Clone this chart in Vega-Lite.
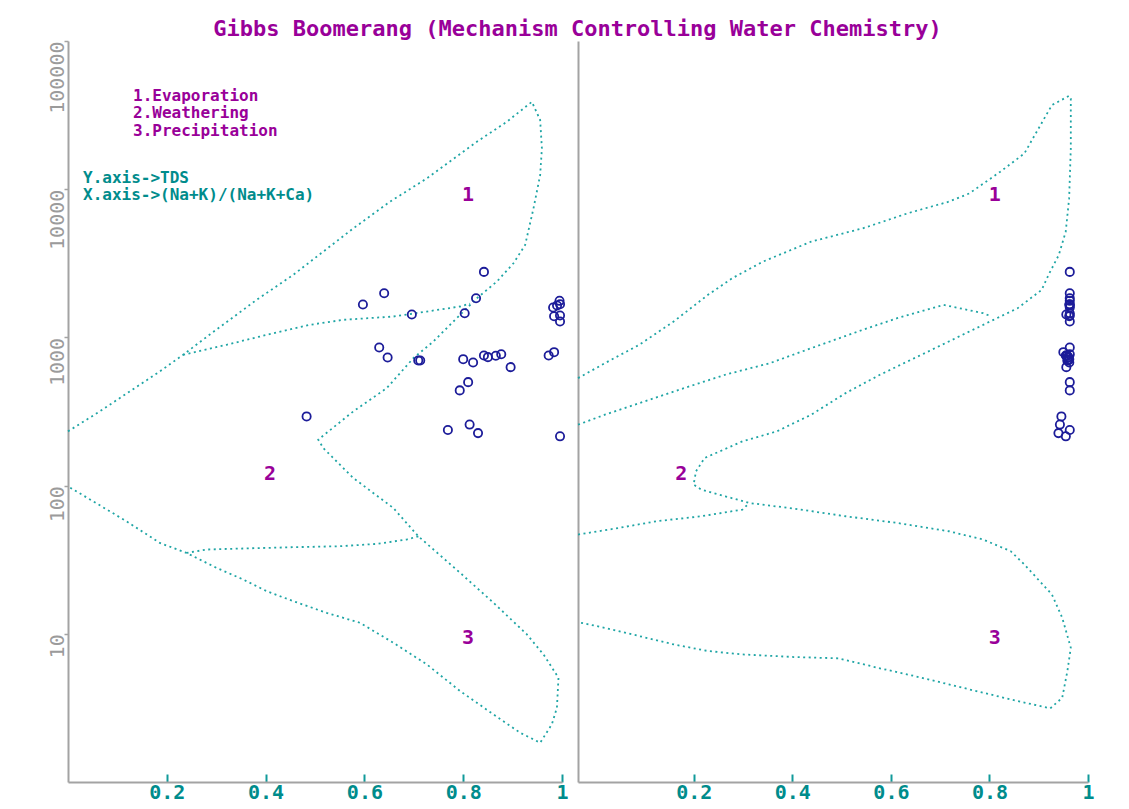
{
  "$schema": "https://vega.github.io/schema/vega-lite/v6.json",
  "background": "white",
  "padding": {"left": 47, "top": 18, "right": 5, "bottom": 5},
  "title": {
    "text": "Gibbs Boomerang (Mechanism Controlling Water Chemistry)",
    "font": "DejaVu Sans Mono",
    "fontSize": 22,
    "fontWeight": "bold",
    "color": "#990099",
    "anchor": "middle",
    "offset": -1,
    "dx": 7
  },
  "spacing": 16,
  "bounds": "flush",
  "datasets": {
    "samples": [
      {"tds": 2767, "cation": 0.842, "anion": 0.963},
      {"tds": 1986, "cation": 0.640, "anion": 0.963},
      {"tds": 1837, "cation": 0.826, "anion": 0.963},
      {"tds": 1765, "cation": 0.995, "anion": 0.963},
      {"tds": 1674, "cation": 0.996, "anion": 0.963},
      {"tds": 1666, "cation": 0.597, "anion": 0.962},
      {"tds": 1641, "cation": 0.990, "anion": 0.963},
      {"tds": 1591, "cation": 0.982, "anion": 0.963},
      {"tds": 1456, "cation": 0.803, "anion": 0.963},
      {"tds": 1427, "cation": 0.696, "anion": 0.956},
      {"tds": 1405, "cation": 0.996, "anion": 0.963},
      {"tds": 1390, "cation": 0.984, "anion": 0.962},
      {"tds": 1280, "cation": 0.996, "anion": 0.963},
      {"tds": 855, "cation": 0.630, "anion": 0.963},
      {"tds": 795, "cation": 0.984, "anion": 0.950},
      {"tds": 770, "cation": 0.877, "anion": 0.963},
      {"tds": 755, "cation": 0.842, "anion": 0.956},
      {"tds": 755, "cation": 0.973, "anion": 0.955},
      {"tds": 752, "cation": 0.866, "anion": 0.958},
      {"tds": 736, "cation": 0.850, "anion": 0.960},
      {"tds": 732, "cation": 0.647, "anion": 0.960},
      {"tds": 713, "cation": 0.800, "anion": 0.962},
      {"tds": 699, "cation": 0.709, "anion": 0.958},
      {"tds": 699, "cation": 0.713, "anion": 0.960},
      {"tds": 677, "cation": 0.820, "anion": 0.962},
      {"tds": 630, "cation": 0.896, "anion": 0.956},
      {"tds": 499, "cation": 0.810, "anion": 0.963},
      {"tds": 439, "cation": 0.793, "anion": 0.963},
      {"tds": 293, "cation": 0.483, "anion": 0.946},
      {"tds": 258, "cation": 0.813, "anion": 0.943},
      {"tds": 237, "cation": 0.769, "anion": 0.963},
      {"tds": 226, "cation": 0.830, "anion": 0.940},
      {"tds": 215, "cation": 0.996, "anion": 0.955}
    ],
    "cationCurves": [
      {"c": "outer", "i": 1, "x": 0, "tds": 232.2},
      {"c": "outer", "i": 2, "x": 0.0642, "tds": 316.7},
      {"c": "outer", "i": 3, "x": 0.125, "tds": 431.9},
      {"c": "outer", "i": 4, "x": 0.1858, "tds": 589.2},
      {"c": "outer", "i": 5, "x": 0.233, "tds": 763.2},
      {"c": "outer", "i": 6, "x": 0.2871, "tds": 1046},
      {"c": "outer", "i": 7, "x": 0.3818, "tds": 1792},
      {"c": "outer", "i": 8, "x": 0.4559, "tds": 2641},
      {"c": "outer", "i": 9, "x": 0.5167, "tds": 3791},
      {"c": "outer", "i": 10, "x": 0.5775, "tds": 5443},
      {"c": "outer", "i": 11, "x": 0.6519, "tds": 8236},
      {"c": "outer", "i": 12, "x": 0.7262, "tds": 11823},
      {"c": "outer", "i": 13, "x": 0.8276, "tds": 20897},
      {"c": "outer", "i": 14, "x": 0.8883, "tds": 28504},
      {"c": "outer", "i": 15, "x": 0.939, "tds": 38880},
      {"c": "outer", "i": 16, "x": 0.9558, "tds": 29262},
      {"c": "outer", "i": 17, "x": 0.9593, "tds": 18831},
      {"c": "outer", "i": 18, "x": 0.9558, "tds": 12463},
      {"c": "outer", "i": 19, "x": 0.9423, "tds": 7425},
      {"c": "outer", "i": 20, "x": 0.9254, "tds": 4207},
      {"c": "outer", "i": 21, "x": 0.9017, "tds": 3162},
      {"c": "outer", "i": 22, "x": 0.8681, "tds": 2380},
      {"c": "outer", "i": 23, "x": 0.8276, "tds": 1837},
      {"c": "outer", "i": 24, "x": 0.7937, "tds": 1420},
      {"c": "outer", "i": 25, "x": 0.7396, "tds": 938.5},
      {"c": "outer", "i": 26, "x": 0.6991, "tds": 724.2},
      {"c": "outer", "i": 27, "x": 0.6452, "tds": 454.7},
      {"c": "outer", "i": 28, "x": 0.5775, "tds": 316.7},
      {"c": "outer", "i": 29, "x": 0.5066, "tds": 204.2},
      {"c": "outer", "i": 30, "x": 0.5167, "tds": 179.2},
      {"c": "outer", "i": 31, "x": 0.5775, "tds": 112.5},
      {"c": "outer", "i": 32, "x": 0.6586, "tds": 70.6},
      {"c": "outer", "i": 33, "x": 0.7092, "tds": 45.5},
      {"c": "outer", "i": 34, "x": 0.7937, "tds": 25.8},
      {"c": "outer", "i": 35, "x": 0.8612, "tds": 16.2},
      {"c": "outer", "i": 36, "x": 0.9289, "tds": 9.91},
      {"c": "outer", "i": 37, "x": 0.9625, "tds": 7.26},
      {"c": "outer", "i": 38, "x": 0.9929, "tds": 5.05},
      {"c": "outer", "i": 39, "x": 0.9897, "tds": 3.17},
      {"c": "outer", "i": 40, "x": 0.9795, "tds": 2.45},
      {"c": "outer", "i": 41, "x": 0.9558, "tds": 1.84},
      {"c": "outer", "i": 42, "x": 0.9153, "tds": 2.15},
      {"c": "outer", "i": 43, "x": 0.8612, "tds": 2.86},
      {"c": "outer", "i": 44, "x": 0.7937, "tds": 4.11},
      {"c": "outer", "i": 45, "x": 0.7262, "tds": 6.22},
      {"c": "outer", "i": 46, "x": 0.6586, "tds": 8.7},
      {"c": "outer", "i": 47, "x": 0.5911, "tds": 11.86},
      {"c": "outer", "i": 48, "x": 0.5236, "tds": 13.85},
      {"c": "outer", "i": 49, "x": 0.4559, "tds": 16.61},
      {"c": "outer", "i": 50, "x": 0.402, "tds": 19.4},
      {"c": "outer", "i": 51, "x": 0.3546, "tds": 23.26},
      {"c": "outer", "i": 52, "x": 0.3007, "tds": 27.85},
      {"c": "outer", "i": 53, "x": 0.2399, "tds": 35.14},
      {"c": "outer", "i": 54, "x": 0.1858, "tds": 41.04},
      {"c": "outer", "i": 55, "x": 0.1183, "tds": 57.45},
      {"c": "outer", "i": 56, "x": 0.0507, "tds": 78.4},
      {"c": "outer", "i": 57, "x": 0, "tds": 98.9},
      {"c": "upper", "i": 1, "x": 0.233, "tds": 763.2},
      {"c": "upper", "i": 2, "x": 0.321, "tds": 891.6},
      {"c": "upper", "i": 3, "x": 0.3885, "tds": 1014},
      {"c": "upper", "i": 4, "x": 0.4898, "tds": 1216},
      {"c": "upper", "i": 5, "x": 0.5572, "tds": 1314},
      {"c": "upper", "i": 6, "x": 0.6586, "tds": 1383},
      {"c": "upper", "i": 7, "x": 0.7262, "tds": 1495},
      {"c": "upper", "i": 8, "x": 0.7937, "tds": 1616},
      {"c": "upper", "i": 9, "x": 0.814, "tds": 1692},
      {"c": "lower", "i": 1, "x": 0.2399, "tds": 35.14},
      {"c": "lower", "i": 2, "x": 0.2804, "tds": 37.04},
      {"c": "lower", "i": 3, "x": 0.3546, "tds": 37.63},
      {"c": "lower", "i": 4, "x": 0.4559, "tds": 38.4},
      {"c": "lower", "i": 5, "x": 0.5506, "tds": 38.99},
      {"c": "lower", "i": 6, "x": 0.6249, "tds": 40.42},
      {"c": "lower", "i": 7, "x": 0.6857, "tds": 43.27},
      {"c": "lower", "i": 8, "x": 0.7092, "tds": 45.5}
    ],
    "anionCurves": [
      {"c": "outer", "i": 1, "x": -0.0349, "tds": 531.1},
      {"c": "outer", "i": 2, "x": 0.0195, "tds": 670},
      {"c": "outer", "i": 3, "x": 0.0894, "tds": 891.6},
      {"c": "outer", "i": 4, "x": 0.1591, "tds": 1280},
      {"c": "outer", "i": 5, "x": 0.2288, "tds": 1937},
      {"c": "outer", "i": 6, "x": 0.2777, "tds": 2505},
      {"c": "outer", "i": 7, "x": 0.3405, "tds": 3247},
      {"c": "outer", "i": 8, "x": 0.4382, "tds": 4428},
      {"c": "outer", "i": 9, "x": 0.543, "tds": 5443},
      {"c": "outer", "i": 10, "x": 0.6338, "tds": 6869},
      {"c": "outer", "i": 11, "x": 0.7175, "tds": 8236},
      {"c": "outer", "i": 12, "x": 0.7592, "tds": 9370},
      {"c": "outer", "i": 13, "x": 0.822, "tds": 13120},
      {"c": "outer", "i": 14, "x": 0.8709, "tds": 17429},
      {"c": "outer", "i": 15, "x": 0.892, "tds": 23190},
      {"c": "outer", "i": 16, "x": 0.9268, "tds": 36940},
      {"c": "outer", "i": 17, "x": 0.9617, "tds": 42670},
      {"c": "outer", "i": 18, "x": 0.9651, "tds": 40920},
      {"c": "outer", "i": 19, "x": 0.9651, "tds": 18831},
      {"c": "outer", "i": 20, "x": 0.9617, "tds": 8670},
      {"c": "outer", "i": 21, "x": 0.9548, "tds": 5171},
      {"c": "outer", "i": 22, "x": 0.9408, "tds": 3603},
      {"c": "outer", "i": 23, "x": 0.9199, "tds": 2641},
      {"c": "outer", "i": 24, "x": 0.906, "tds": 2093},
      {"c": "outer", "i": 25, "x": 0.8571, "tds": 1573},
      {"c": "outer", "i": 26, "x": 0.8083, "tds": 1314},
      {"c": "outer", "i": 27, "x": 0.7175, "tds": 938.5},
      {"c": "outer", "i": 28, "x": 0.6477, "tds": 724.2},
      {"c": "outer", "i": 29, "x": 0.5778, "tds": 559.8},
      {"c": "outer", "i": 30, "x": 0.5081, "tds": 420.7},
      {"c": "outer", "i": 31, "x": 0.4382, "tds": 300.9},
      {"c": "outer", "i": 32, "x": 0.3685, "tds": 232.2},
      {"c": "outer", "i": 33, "x": 0.2987, "tds": 198.9},
      {"c": "outer", "i": 34, "x": 0.2219, "tds": 153.5},
      {"c": "outer", "i": 35, "x": 0.2045, "tds": 124.8},
      {"c": "outer", "i": 36, "x": 0.1996, "tds": 101.6},
      {"c": "outer", "i": 37, "x": 0.215, "tds": 93.98},
      {"c": "outer", "i": 38, "x": 0.2639, "tds": 84.7},
      {"c": "outer", "i": 39, "x": 0.3127, "tds": 76.3},
      {"c": "outer", "i": 40, "x": 0.4033, "tds": 69.98},
      {"c": "outer", "i": 41, "x": 0.5081, "tds": 62.1},
      {"c": "outer", "i": 42, "x": 0.6127, "tds": 55.98},
      {"c": "outer", "i": 43, "x": 0.7175, "tds": 49.2},
      {"c": "outer", "i": 44, "x": 0.7872, "tds": 43.27},
      {"c": "outer", "i": 45, "x": 0.8431, "tds": 36.08},
      {"c": "outer", "i": 46, "x": 0.8709, "tds": 29.35},
      {"c": "outer", "i": 47, "x": 0.9268, "tds": 18.43},
      {"c": "outer", "i": 48, "x": 0.9477, "tds": 12.82},
      {"c": "outer", "i": 49, "x": 0.9651, "tds": 8.05},
      {"c": "outer", "i": 50, "x": 0.9582, "tds": 5.61},
      {"c": "outer", "i": 51, "x": 0.9477, "tds": 3.7},
      {"c": "outer", "i": 52, "x": 0.9234, "tds": 3.14},
      {"c": "outer", "i": 53, "x": 0.8571, "tds": 3.52},
      {"c": "outer", "i": 54, "x": 0.7872, "tds": 4.0},
      {"c": "outer", "i": 55, "x": 0.7175, "tds": 4.56},
      {"c": "outer", "i": 56, "x": 0.6477, "tds": 5.19},
      {"c": "outer", "i": 57, "x": 0.5778, "tds": 5.85},
      {"c": "outer", "i": 58, "x": 0.4941, "tds": 6.83},
      {"c": "outer", "i": 59, "x": 0.4033, "tds": 6.97},
      {"c": "outer", "i": 60, "x": 0.2987, "tds": 7.26},
      {"c": "outer", "i": 61, "x": 0.2288, "tds": 7.65},
      {"c": "outer", "i": 62, "x": 0.1591, "tds": 8.48},
      {"c": "outer", "i": 63, "x": 0.0894, "tds": 9.65},
      {"c": "outer", "i": 64, "x": 0.0195, "tds": 10.97},
      {"c": "outer", "i": 65, "x": -0.0349, "tds": 11.99},
      {"c": "upper", "i": 1, "x": -0.0349, "tds": 257.7},
      {"c": "upper", "i": 2, "x": 0.0195, "tds": 300.9},
      {"c": "upper", "i": 3, "x": 0.0894, "tds": 360.2},
      {"c": "upper", "i": 4, "x": 0.18, "tds": 454.7},
      {"c": "upper", "i": 5, "x": 0.2639, "tds": 559.8},
      {"c": "upper", "i": 6, "x": 0.3545, "tds": 670},
      {"c": "upper", "i": 7, "x": 0.4382, "tds": 845.7},
      {"c": "upper", "i": 8, "x": 0.543, "tds": 1125},
      {"c": "upper", "i": 9, "x": 0.6127, "tds": 1347},
      {"c": "upper", "i": 10, "x": 0.6826, "tds": 1573},
      {"c": "upper", "i": 11, "x": 0.7069, "tds": 1658},
      {"c": "upper", "i": 12, "x": 0.7872, "tds": 1456},
      {"c": "upper", "i": 13, "x": 0.8046, "tds": 1383},
      {"c": "lower", "i": 1, "x": -0.0349, "tds": 46.75},
      {"c": "lower", "i": 2, "x": 0.0405, "tds": 51.3},
      {"c": "lower", "i": 3, "x": 0.1242, "tds": 57.45},
      {"c": "lower", "i": 4, "x": 0.215, "tds": 62.1},
      {"c": "lower", "i": 5, "x": 0.2987, "tds": 68.9},
      {"c": "lower", "i": 6, "x": 0.3127, "tds": 76.3}
    ],
    "notes": [
      {"text": "1.Evaporation", "x": 0.1317, "tds": 42670, "kind": "mechanism"},
      {"text": "2.Weathering", "x": 0.1317, "tds": 32520, "kind": "mechanism"},
      {"text": "3.Precipitation", "x": 0.1317, "tds": 24790, "kind": "mechanism"},
      {"text": "Y.axis->TDS", "x": 0.0304, "tds": 11950, "kind": "axes"},
      {"text": "X.axis->(Na+K)/(Na+K+Ca)", "x": 0.0304, "tds": 9112, "kind": "axes"}
    ],
    "regions": [
      {"panel": "cation", "text": "1", "x": 0.81, "tds": 9183},
      {"panel": "cation", "text": "2", "x": 0.4087, "tds": 119.2},
      {"panel": "cation", "text": "3", "x": 0.81, "tds": 9.35},
      {"panel": "anion", "text": "1", "x": 0.811, "tds": 9183},
      {"panel": "anion", "text": "2", "x": 0.1747, "tds": 119.2},
      {"panel": "anion", "text": "3", "x": 0.811, "tds": 9.35}
    ]
  },
  "hconcat": [
    {
      "width": 494,
      "height": 741,
      "layer": [
        {
          "data": {"name": "cationCurves"},
          "mark": {"type": "line", "color": "#1fa5a5", "strokeDash": [2, 3.5], "strokeWidth": 1.8},
          "encoding": {
            "x": {
              "field": "x", "type": "quantitative",
              "scale": {"domain": [0, 1], "nice": false, "zero": false},
              "axis": {
                "values": [0.2, 0.4, 0.6, 0.8, 1], "format": ".1~f", "title": null, "grid": false,
                "domainColor": "#a3a3a3", "domainWidth": 2,
                "tickColor": "#119a9a", "tickSize": -8, "tickWidth": 2,
                "labelColor": "#008c8c", "labelFont": "DejaVu Sans Mono", "labelFontWeight": "bold", "labelFontSize": 20,
                "labelPadding": 8, "labelFlush": false, "labelOverlap": false
              }
            },
            "y": {
              "field": "tds", "type": "quantitative",
              "scale": {"type": "log", "domain": [1, 100000], "nice": false},
              "axis": {
                "values": [10, 100, 1000, 10000, 100000], "format": "d", "title": null, "grid": false,
                "domainColor": "#a3a3a3", "domainWidth": 2,
                "tickColor": "#a3a3a3", "tickSize": 4, "tickWidth": 1.5,
                "labelAngle": 270, "labelAlign": "right", "labelBaseline": "alphabetic",
                "labelColor": "#9b9b9b", "labelFont": "DejaVu Sans Mono", "labelFontSize": 20,
                "labelPadding": 1, "labelFlush": false, "labelOverlap": false
              }
            },
            "detail": {"field": "c"},
            "order": {"field": "i"}
          }
        },
        {
          "data": {"name": "samples"},
          "mark": {"type": "point", "shape": "circle", "filled": false, "color": "#1c1c99", "size": 68, "strokeWidth": 1.8, "opacity": 1},
          "encoding": {
            "x": {"field": "cation", "type": "quantitative"},
            "y": {"field": "tds", "type": "quantitative"}
          }
        },
        {
          "data": {"name": "notes"},
          "mark": {"type": "text", "align": "left", "baseline": "middle", "font": "DejaVu Sans Mono", "fontWeight": "bold", "fontSize": 16},
          "encoding": {
            "x": {"field": "x", "type": "quantitative"},
            "y": {"field": "tds", "type": "quantitative"},
            "text": {"field": "text"},
            "color": {"field": "kind", "type": "nominal", "scale": {"domain": ["mechanism", "axes"], "range": ["#990099", "#008c8c"]}, "legend": null}
          }
        },
        {
          "data": {"name": "regions"},
          "transform": [{"filter": "datum.panel === 'cation'"}],
          "mark": {"type": "text", "align": "center", "baseline": "middle", "font": "DejaVu Sans Mono", "fontWeight": "bold", "fontSize": 20, "color": "#990099"},
          "encoding": {
            "x": {"field": "x", "type": "quantitative"},
            "y": {"field": "tds", "type": "quantitative"},
            "text": {"field": "text"}
          }
        }
      ]
    },
    {
      "width": 510,
      "height": 741,
      "layer": [
        {
          "data": {"name": "anionCurves"},
          "mark": {"type": "line", "color": "#1fa5a5", "strokeDash": [2, 3.5], "strokeWidth": 1.8},
          "encoding": {
            "x": {
              "field": "x", "type": "quantitative",
              "scale": {"domain": [-0.035, 1], "nice": false, "zero": false},
              "axis": {
                "values": [0.2, 0.4, 0.6, 0.8, 1], "format": ".1~f", "title": null, "grid": false,
                "domainColor": "#a3a3a3", "domainWidth": 2,
                "tickColor": "#119a9a", "tickSize": -8, "tickWidth": 2,
                "labelColor": "#008c8c", "labelFont": "DejaVu Sans Mono", "labelFontWeight": "bold", "labelFontSize": 20,
                "labelPadding": 8, "labelFlush": false, "labelOverlap": false
              }
            },
            "y": {
              "field": "tds", "type": "quantitative",
              "scale": {"type": "log", "domain": [1, 100000], "nice": false},
              "axis": {"title": null, "labels": false, "ticks": false, "grid": false, "domainColor": "#a3a3a3", "domainWidth": 2}
            },
            "detail": {"field": "c"},
            "order": {"field": "i"}
          }
        },
        {
          "data": {"name": "samples"},
          "mark": {"type": "point", "shape": "circle", "filled": false, "color": "#1c1c99", "size": 68, "strokeWidth": 1.8, "opacity": 1},
          "encoding": {
            "x": {"field": "anion", "type": "quantitative"},
            "y": {"field": "tds", "type": "quantitative"}
          }
        },
        {
          "data": {"name": "regions"},
          "transform": [{"filter": "datum.panel === 'anion'"}],
          "mark": {"type": "text", "align": "center", "baseline": "middle", "font": "DejaVu Sans Mono", "fontWeight": "bold", "fontSize": 20, "color": "#990099"},
          "encoding": {
            "x": {"field": "x", "type": "quantitative"},
            "y": {"field": "tds", "type": "quantitative"},
            "text": {"field": "text"}
          }
        }
      ]
    }
  ],
  "config": {
    "view": {"stroke": null},
    "axis": {"grid": false}
  }
}
